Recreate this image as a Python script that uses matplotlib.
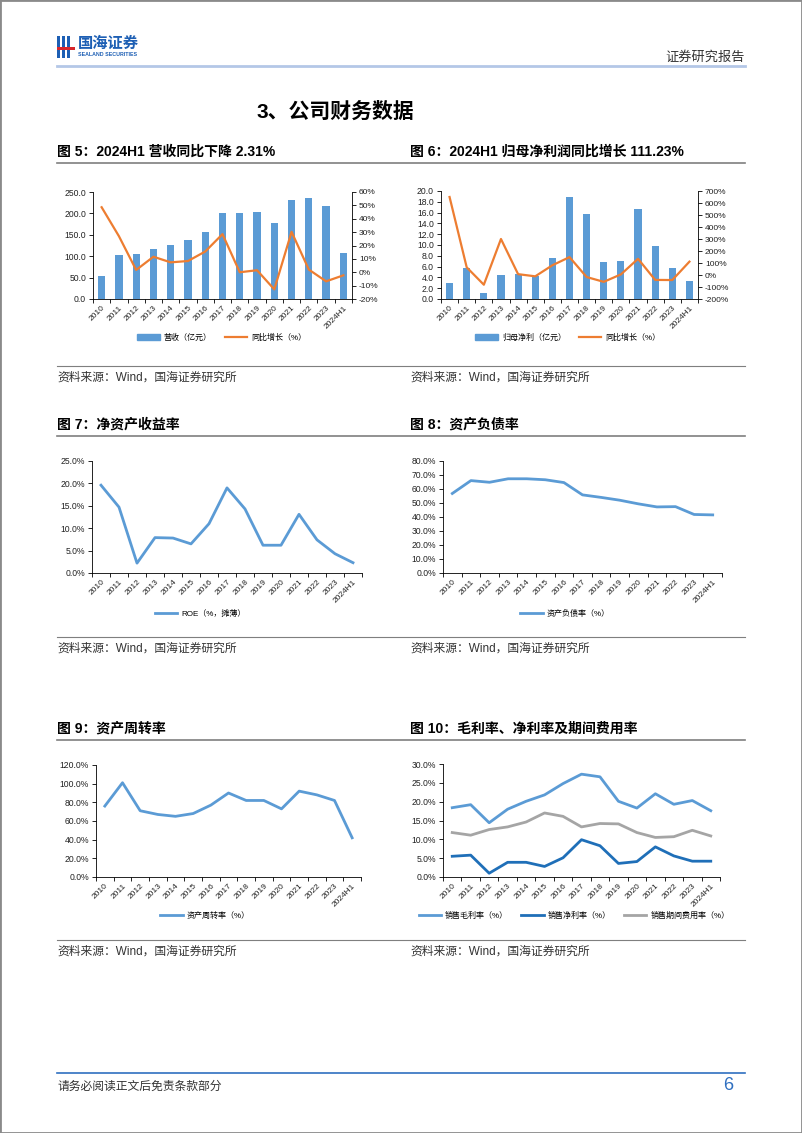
import matplotlib
matplotlib.use("Agg")
import matplotlib.pyplot as plt
from matplotlib.patches import Rectangle, Patch
from matplotlib.lines import Line2D
import numpy as np

plt.rcParams["font.family"] = ["Liberation Sans", "Noto Sans CJK SC"]
plt.rcParams["axes.unicode_minus"] = False

years = ["2010", "2011", "2012", "2013", "2014", "2015", "2016", "2017",
         "2018", "2019", "2020", "2021", "2022", "2023", "2024H1"]

# 营收 (亿元) and yoy (%)
revenue = [53, 102, 104, 117, 126, 137, 157, 201, 201, 204, 177, 231, 236, 218, 107]
revenue_yoy = [48.6, 27, 1.7, 11.6, 7.4, 8.4, 15.5, 28.5, 0, 1.5, -12.8, 30.2, 2, -6.8, -2.31]

# 归母净利 (亿元) and yoy (%)
net_profit = [2.9, 5.8, 1.1, 4.4, 4.7, 4.2, 7.6, 18.9, 15.7, 6.8, 7.1, 16.7, 9.9, 5.7, 3.3]
net_profit_yoy = [650, 64, -81, 300, 7, -11, 81, 149, -17, -57, 5, 135, -41, -42, 111.23]

roe = [19.6, 14.7, 2.2, 7.9, 7.8, 6.5, 11.0, 19.0, 14.3, 6.2, 6.2, 13.1, 7.4, 4.3, 2.3]
debt_ratio = [56.8, 66.0, 64.8, 67.3, 67.3, 66.6, 64.6, 55.8, 54.0, 52.0, 49.4, 47.2, 47.4, 41.8, 41.5]
asset_turnover = [76, 101, 71, 67, 65, 68, 77, 90, 82, 82, 73, 92, 88, 82, 42]
gross_margin = [18.4, 19.2, 14.4, 18.0, 20.1, 21.8, 24.8, 27.3, 26.6, 20.1, 18.3, 22.1, 19.3, 20.3, 17.6]
net_margin = [5.5, 5.8, 1.0, 3.9, 3.9, 2.8, 5.1, 9.9, 8.3, 3.6, 4.1, 8.0, 5.6, 4.2, 4.2]
expense_ratio = [11.8, 11.1, 12.6, 13.3, 14.6, 17.0, 16.1, 13.3, 14.2, 14.1, 11.8, 10.5, 10.7, 12.4, 10.9]

BLUE = "#5b9bd5"
ORANGE = "#ed7d31"
DARK_BLUE = "#1f6fb8"
GRAY = "#a5a5a5"
TXT = "#222222"

W, H = 802, 1133
fig = plt.figure(figsize=(W / 100, H / 100), dpi=100)


def px_axes(left, top, right, bottom):
    return fig.add_axes([left / W, 1 - bottom / H, (right - left) / W, (bottom - top) / H])


def fig_text(x, y, s, **kw):
    fig.text(x / W, 1 - y / H, s, **kw)


def hline(x0, x1, y, color, lw):
    fig.add_artist(Line2D([x0 / W, x1 / W], [1 - y / H, 1 - y / H], color=color, lw=lw))


def style_axes(ax, xmax=14.5):
    n = len(years)
    ax.set_xlim(-0.5, xmax)
    ax.set_xticks(range(n))
    ax.set_xticklabels(years, rotation=45, ha="right", rotation_mode="anchor",
                       fontsize=6, color=TXT)
    ax.set_xticks(np.arange(-0.5, n), minor=True)
    ax.tick_params(axis="x", which="major", length=0, pad=4)
    ax.tick_params(axis="x", which="minor", length=3, width=0.6)
    ax.tick_params(axis="y", length=3, width=0.6, labelsize=6.2, pad=2, labelcolor=TXT)
    for s in ["top", "right"]:
        ax.spines[s].set_visible(False)
    for s in ["left", "bottom"]:
        ax.spines[s].set_linewidth(0.6)


def legend_at(ax, handles, labels, x, y, ncol):
    ax.legend(handles, labels, loc="center", bbox_to_anchor=(x / W, 1 - y / H),
              bbox_transform=fig.transFigure, ncol=ncol, frameon=False,
              fontsize=5.8, handlelength=2.8, columnspacing=1.6, handletextpad=0.5)


def pct_fmt(decimals):
    return lambda v, p: f"{v:.{decimals}f}%"


x = np.arange(len(years))

# page border
fig.add_artist(Rectangle((0, 0), 1, 1, transform=fig.transFigure, fill=False,
                         edgecolor="#8a8a8a", lw=2))

# header logo
for bx in [57, 62, 67]:
    fig.add_artist(Rectangle((bx / W, 1 - 58 / H), 3 / W, 22 / H,
                             transform=fig.transFigure, color="#1d5fb4", lw=0))
fig.add_artist(Rectangle((57 / W, 1 - 50 / H), 18 / W, 2.5 / H,
                         transform=fig.transFigure, color="#d7262b", lw=0))
fig_text(78, 44, "国海证券", fontsize=11, fontweight="bold", color="#1d5fb4",
         va="center", ha="left")
fig_text(78, 55, "SEALAND SECURITIES", fontsize=3.8, fontweight="bold",
         color="#1d5fb4", va="center", ha="left")
fig_text(745, 57, "证券研究报告", fontsize=9.5, color="#333333", va="center", ha="right")
hline(57, 745, 66, "#b4c7e7", 2)

fig_text(335, 112, "3、公司财务数据", fontsize=15, fontweight="bold", color="black",
         va="center", ha="center")

# figure titles, separator lines and sources
titles = [
    (57, 152, "图 5：2024H1 营收同比下降 2.31%"),
    (410, 152, "图 6：2024H1 归母净利润同比增长 111.23%"),
    (57, 425, "图 7：净资产收益率"),
    (410, 425, "图 8：资产负债率"),
    (57, 729, "图 9：资产周转率"),
    (410, 729, "图 10：毛利率、净利率及期间费用率"),
]
for tx, ty, s in titles:
    fig_text(tx, ty, s, fontsize=10, fontweight="bold", va="center", ha="left")
for ly in [163, 436, 740]:
    hline(57, 745, ly, "#7f7f7f", 1.2)
for ly in [366, 637, 940]:
    hline(57, 745, ly, "#7f7f7f", 0.8)
    fig_text(57, ly + 12, "资料来源：Wind，国海证券研究所", fontsize=8.5,
             color="#333333", va="center", ha="left")
    fig_text(410, ly + 12, "资料来源：Wind，国海证券研究所", fontsize=8.5,
             color="#333333", va="center", ha="left")

# footer
hline(57, 745, 1073, "#2f6fc0", 1.2)
fig_text(57, 1087, "请务必阅读正文后免责条款部分", fontsize=8.5, color="#333333",
         va="center", ha="left")
fig_text(733, 1086, "6", fontsize=13, color="#2f6fc0", va="center", ha="right")

# 图5: revenue
ax = px_axes(93, 192, 352, 299)
ax.bar(x, revenue, width=0.42, color=BLUE, zorder=2)
style_axes(ax)
ax.set_ylim(0, 250)
ax.set_yticks(np.arange(0, 251, 50))
ax.yaxis.set_major_formatter(lambda v, p: f"{v:.1f}")
ax2 = ax.twinx()
ax2.plot(x, revenue_yoy, color=ORANGE, lw=1.6, zorder=3)
ax2.set_ylim(-20, 60)
ax2.set_yticks(np.arange(-20, 61, 10))
ax2.yaxis.set_major_formatter(pct_fmt(0))
ax2.tick_params(axis="y", length=3, width=0.6, labelsize=6, pad=2, labelcolor=TXT)
for s in ["top", "left", "bottom"]:
    ax2.spines[s].set_visible(False)
ax2.spines["right"].set_linewidth(0.6)
legend_at(ax, [Patch(color=BLUE), Line2D([], [], color=ORANGE, lw=1.6)],
          ["营收（亿元）", "同比增长（%）"], 222, 338, 2)

# 图6: net profit
ax = px_axes(441, 191, 698, 299)
ax.bar(x, net_profit, width=0.42, color=BLUE, zorder=2)
style_axes(ax)
ax.set_ylim(0, 20)
ax.set_yticks(np.arange(0, 21, 2))
ax.yaxis.set_major_formatter(lambda v, p: f"{v:.1f}")
ax2 = ax.twinx()
ax2.plot(x, net_profit_yoy, color=ORANGE, lw=1.6, zorder=3)
ax2.set_ylim(-200, 700)
ax2.set_yticks(np.arange(-200, 701, 100))
ax2.yaxis.set_major_formatter(pct_fmt(0))
ax2.tick_params(axis="y", length=3, width=0.6, labelsize=6, pad=2, labelcolor=TXT)
for s in ["top", "left", "bottom"]:
    ax2.spines[s].set_visible(False)
ax2.spines["right"].set_linewidth(0.6)
legend_at(ax, [Patch(color=BLUE), Line2D([], [], color=ORANGE, lw=1.6)],
          ["归母净利（亿元）", "同比增长（%）"], 568, 338, 2)

# 图7: ROE
ax = px_axes(92, 461, 362, 573)
ax.plot(x, roe, color=BLUE, lw=2, solid_joinstyle="round")
style_axes(ax, xmax=14.0)
ax.set_ylim(0, 25)
ax.set_yticks(np.arange(0, 26, 5))
ax.yaxis.set_major_formatter(pct_fmt(1))
legend_at(ax, [Line2D([], [], color=BLUE, lw=2)], ["ROE（%，摊薄）"], 200, 614, 1)

# 图8: debt ratio
ax = px_axes(443, 461, 722, 573)
ax.plot(x, debt_ratio, color=BLUE, lw=2, solid_joinstyle="round")
style_axes(ax)
ax.set_ylim(0, 80)
ax.set_yticks(np.arange(0, 81, 10))
ax.yaxis.set_major_formatter(pct_fmt(1))
legend_at(ax, [Line2D([], [], color=BLUE, lw=2)], ["资产负债率（%）"], 565, 614, 1)

# 图9: asset turnover
ax = px_axes(96, 765, 361, 877)
ax.plot(x, asset_turnover, color=BLUE, lw=2, solid_joinstyle="round")
style_axes(ax, xmax=14.0)
ax.set_ylim(0, 120)
ax.set_yticks(np.arange(0, 121, 20))
ax.yaxis.set_major_formatter(pct_fmt(1))
legend_at(ax, [Line2D([], [], color=BLUE, lw=2)], ["资产周转率（%）"], 205, 916, 1)

# 图10: margins
ax = px_axes(443, 764, 720, 877)
ax.plot(x, gross_margin, color=BLUE, lw=2, solid_joinstyle="round")
ax.plot(x, net_margin, color=DARK_BLUE, lw=2, solid_joinstyle="round")
ax.plot(x, expense_ratio, color=GRAY, lw=2, solid_joinstyle="round")
style_axes(ax)
ax.set_ylim(0, 30)
ax.set_yticks(np.arange(0, 31, 5))
ax.yaxis.set_major_formatter(pct_fmt(1))
legend_at(ax, [Line2D([], [], color=c, lw=2) for c in [BLUE, DARK_BLUE, GRAY]],
          ["销售毛利率（%）", "销售净利率（%）", "销售期间费用率（%）"], 574, 916, 3)

fig.savefig("out.png", dpi=100)
